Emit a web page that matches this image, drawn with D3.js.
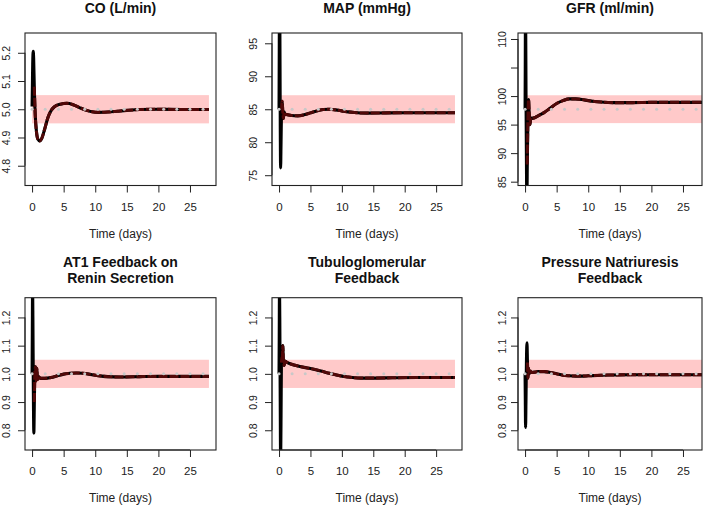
<!DOCTYPE html>
<html><head><meta charset="utf-8">
<script src="https://cdn.jsdelivr.net/npm/d3@7/dist/d3.min.js"></script>
<style>
body{margin:0;background:#fff;}
svg{display:block;font-family:"Liberation Sans",Arial,Helvetica,sans-serif;}
</style></head>
<body><svg id="chart" width="709" height="505"></svg>
<script>
// ---------------- data ----------------
const titles = [["CO (L/min)"],["MAP (mmHg)"],["GFR (ml/min)"],
  ["AT1 Feedback on","Renin Secretion"],["Tubuloglomerular","Feedback"],["Pressure Natriuresis","Feedback"]];
const targets = [5.0, 85, 97.7, 1.0, 1.0, 1.0];
const bandLow  = [4.95, 82.875, 95.26, 0.95, 0.95, 0.95];
const bandHigh = [5.05, 87.125, 100.14, 1.05, 1.05, 1.05];
const yDomains = [[4.73,5.27],[73.44,96.56],[84.33,111.05],[0.73,1.27],[0.73,1.27],[0.73,1.27]];
const yTicks = [[4.8,4.9,5.0,5.1,5.2],[75,80,85,90,95],[85,90,95,100,105,110],
  [0.8,0.9,1.0,1.1,1.2],[0.8,0.9,1.0,1.1,1.2],[0.8,0.9,1.0,1.1,1.2]];
const yTickLabels = [["4.8","4.9","5.0","5.1","5.2"],["75","80","85","90","95"],["85","90","95","100","","110"],
  ["0.8","0.9","1.0","1.1","1.2"],["0.8","0.9","1.0","1.1","1.2"],["0.8","0.9","1.0","1.1","1.2"]];
const xTicks = [0,5,10,15,20,25];
const xDomain = [-1.12, 29.12];
const dotTimes = [0,2.08,4.17,6.25,8.33,10.42,12.5,14.58,16.67,18.75,20.83,22.92,25,27.08];

const coT  = [0,0.05,0.1,0.18,0.25,0.35,0.5,0.7,0.9,1.2,1.5,2.0,2.5,3.0,3.5,4.5,5.5,6.5,7.5,8.5,9.5,10.5,12,13.5,15,17,20,24,28];
const coV  = [5.01,5.08,5.16,5.205,5.18,5.08,4.98,4.92,4.895,4.888,4.895,4.93,4.97,4.995,5.008,5.018,5.021,5.016,5.006,4.997,4.991,4.989,4.99,4.993,4.996,4.999,5.0,4.999,4.999];
const mapT = [0,0.04,0.08,0.13,0.18,0.25,0.32,0.4,0.5,0.6,0.7,0.8,0.95,1.2,2,3,4,5,6,7,8,9,10,11,12,14,17,20,24,28];
const mapV = [85,95,104,98,86,76.1,80,85,86.2,84.5,83.6,84.6,84.3,84.2,84.05,84.0,84.15,84.45,84.75,84.95,85.0,84.9,84.75,84.6,84.5,84.42,84.45,84.47,84.47,84.47];
const gfrT = [0,0.03,0.06,0.1,0.15,0.22,0.28,0.35,0.45,0.55,0.65,0.78,0.9,1.1,1.5,2,3,4,5,6,7,8,9,10,11,12,14,17,20,24,28];
const gfrV = [97.7,105,115,112,100,88,80,88,96,99.4,97,95,96.2,96.1,96.2,96.5,97.1,97.9,98.7,99.2,99.5,99.5,99.4,99.2,99.05,98.95,98.85,98.85,98.9,98.9,98.9];
const at1T = [0,0.04,0.08,0.13,0.2,0.28,0.36,0.45,0.55,0.65,0.75,0.85,1.0,1.3,2,3,4,5,6,7,8,9,10,11,12,14,17,20,24,28];
const at1V = [1.0,1.15,1.3,1.2,0.95,0.79,0.9,1.01,1.025,0.975,1.02,0.98,0.99,0.984,0.984,0.987,0.993,0.999,1.002,1.003,1.002,0.999,0.995,0.992,0.99,0.989,0.99,0.991,0.991,0.991];
const tgfT = [0,0.03,0.07,0.12,0.18,0.25,0.32,0.38,0.45,0.52,0.6,0.68,0.8,0.95,1.2,1.5,2,3,4,5,6,7,8,9,10,11,12,13,15,18,22,28];
const tgfV = [1.0,1.12,1.3,1.2,0.95,0.7,0.85,1.04,1.06,1.045,1.10,1.05,1.03,1.045,1.042,1.038,1.034,1.028,1.023,1.019,1.014,1.008,1.002,0.997,0.992,0.989,0.986,0.985,0.985,0.986,0.987,0.987];
const pnT  = [0,0.04,0.08,0.14,0.22,0.3,0.38,0.46,0.55,0.65,0.8,1,1.5,2,3,4,5,6,7,8,9,10,12,14,17,20,24,28];
const pnV  = [1.0,0.9,0.81,0.9,1.05,1.11,1.04,0.985,1.02,1.0,1.01,1.005,1.006,1.008,1.008,1.005,1.0,0.995,0.993,0.992,0.992,0.993,0.995,0.996,0.997,0.997,0.997,0.997];
const seriesT = [coT, mapT, gfrT, at1T, tgfT, pnT];
const seriesV = [coV, mapV, gfrV, at1V, tgfV, pnV];

// ---------------- layout ----------------
const cols = [{x0:25, x1:216, w:191, lab:15},{x0:272, x1:462, w:190, lab:15},{x0:518, x1:702, w:191, lab:12.5}];
const rows = [{y0:33, y1:185.5, tb:[13]},{y0:297.7, y1:450, tb:[267,283]}];

const svg = d3.select("#chart");
for (let i = 0; i < 6; i++) {
  const c = cols[i % 3], r = rows[Math.floor(i / 3)];
  const x = d3.scaleLinear().domain(xDomain).range([c.x0, c.x0 + c.w]);
  const y = d3.scaleLinear().domain(yDomains[i]).range([r.y1, r.y0]);
  const g = svg.append("g");
  const cid = "clip" + i;
  g.append("clipPath").attr("id", cid).append("rect")
    .attr("x", c.x0).attr("y", r.y0).attr("width", c.x1 - c.x0).attr("height", r.y1 - r.y0);
  const pg = g.append("g").attr("clip-path", `url(#${cid})`);
  // band
  pg.append("rect").attr("x", x(0)).attr("width", x(28) - x(0))
    .attr("y", y(bandHigh[i])).attr("height", y(bandLow[i]) - y(bandHigh[i]))
    .attr("fill", "#ffc9c9");
  const pts = seriesT[i].map((t, k) => [t, seriesV[i][k]]);
  const line = d3.line().x(d => x(d[0])).y(d => y(d[1])).curve(d3.curveMonotoneX);
  pg.append("path").attr("d", line(pts)).attr("fill", "none").attr("stroke", "#000")
    .attr("stroke-width", 3.1).attr("stroke-linejoin", "round");
  pg.append("path").attr("d", line(pts.filter(d => d[0] >= 0.35))).attr("fill", "none")
    .attr("stroke", "#520808").attr("stroke-width", 3).attr("stroke-dasharray", "9,2");
  // target dots (drawn over the curve)
  pg.selectAll("circle.t").data(dotTimes).join("circle")
    .attr("cx", d => x(d)).attr("cy", y(targets[i])).attr("r", 1.5).attr("fill", "#c8c8c8");
  // box
  g.append("rect").attr("x", c.x0).attr("y", r.y0).attr("width", c.x1 - c.x0).attr("height", r.y1 - r.y0)
    .attr("fill", "none").attr("stroke", "#222").attr("stroke-width", 1.1);
  // x axis
  const xa = g.append("g").attr("transform", `translate(0,${r.y1})`)
    .call(d3.axisBottom(x).tickValues(xTicks).tickSize(7).tickPadding(10).tickFormat(d3.format("d")));
  xa.select(".domain").remove();
  xa.append("line").attr("x1", x(xTicks[0])).attr("x2", x(xTicks[xTicks.length-1])).attr("stroke", "#222");
  xa.selectAll("line").attr("stroke", "#222");
  xa.selectAll("text").attr("font-size", 11.5).attr("fill", "#222").attr("font-family", null).attr("dy", "0.71em");
  // y axis
  const labs = yTickLabels[i];
  const ya = g.append("g").attr("transform", `translate(${c.x0},0)`)
    .call(d3.axisLeft(y).tickValues(yTicks[i]).tickSize(7).tickFormat((d, k) => labs[k]));
  ya.select(".domain").remove();
  ya.append("line").attr("y1", y(yTicks[i][0])).attr("y2", y(yTicks[i][yTicks[i].length-1])).attr("stroke", "#222");
  ya.selectAll("line").attr("stroke", "#222");
  ya.selectAll("text").attr("font-size", 10.5).attr("fill", "#222").attr("font-family", null)
    .attr("text-anchor", "middle").attr("x", null).attr("dy", null)
    .attr("transform", `translate(${-c.lab},0) rotate(-90)`);
  // titles
  const cx = (c.x0 + c.x1) / 2;
  titles[i].forEach((t, k) => {
    g.append("text").attr("x", cx).attr("y", r.tb[k]).attr("text-anchor", "middle")
      .attr("font-weight", "bold").attr("font-size", 14).attr("fill", "#111").text(t);
  });
  g.append("text").attr("x", cx).attr("y", r.y1 + 52).attr("text-anchor", "middle")
    .attr("font-size", 12).attr("fill", "#222").text("Time (days)");
}
</script></body></html>
